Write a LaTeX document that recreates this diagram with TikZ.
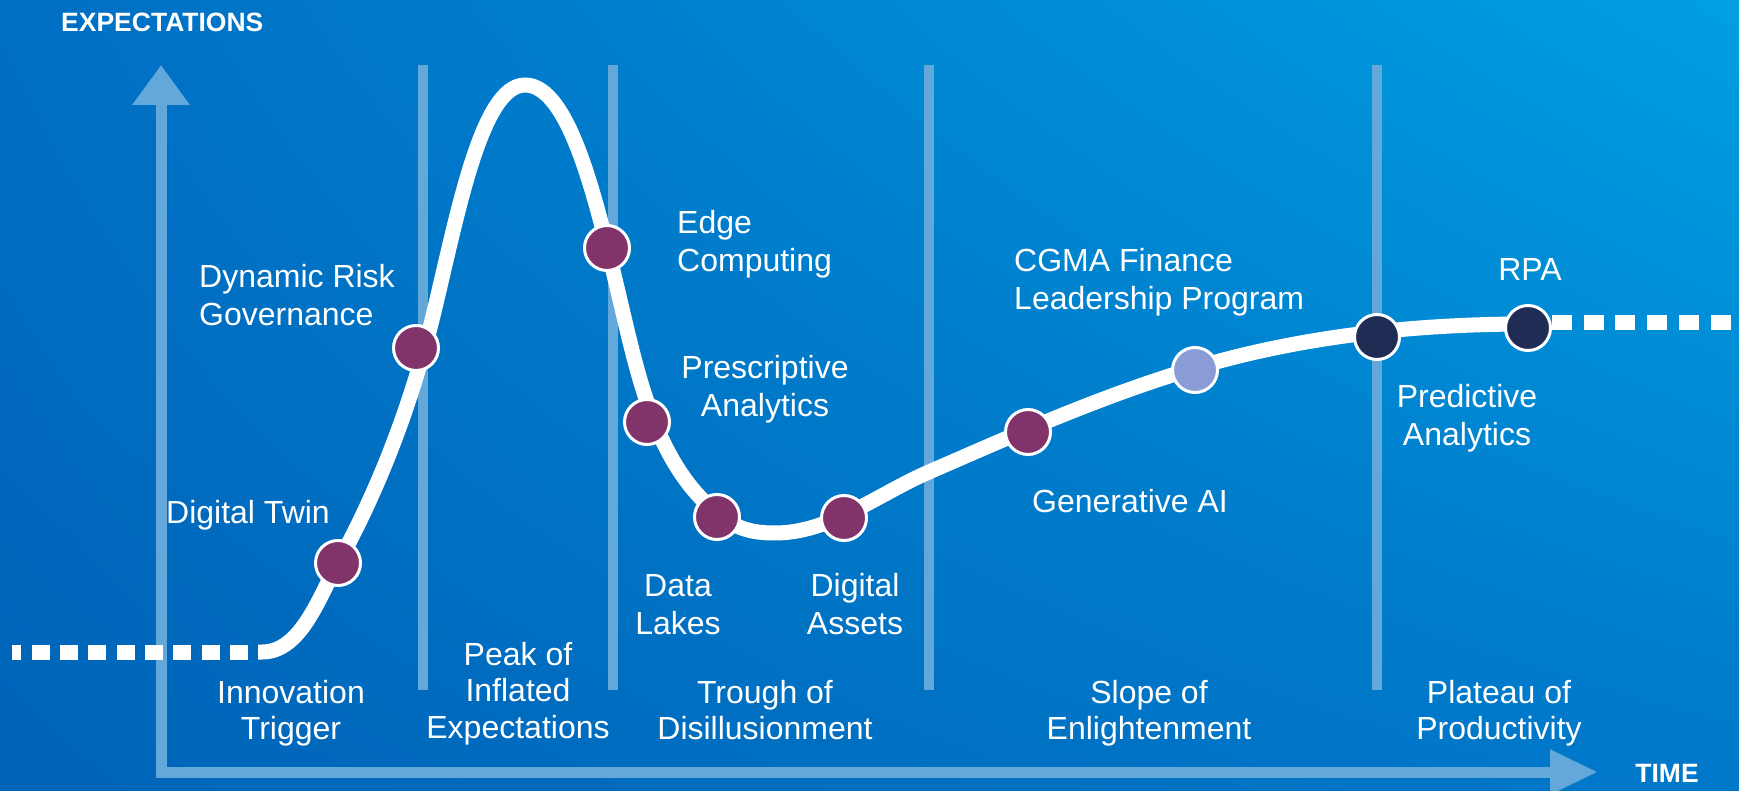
\documentclass[tikz,border=0pt]{standalone}
\usepackage{fontspec}
\setmainfont{Liberation Sans}
\usetikzlibrary{arrows.meta,shadings}
\definecolor{bgUL}{RGB}{0,110,195}
\definecolor{bgUR}{RGB}{0,160,226}
\definecolor{bgLL}{RGB}{0,100,184}
\definecolor{bgLR}{RGB}{0,120,202}
\definecolor{axisblue}{RGB}{98,168,218}
\definecolor{dotpurple}{RGB}{128,52,106}
\definecolor{dotnavy}{RGB}{31,45,85}
\definecolor{dotlight}{RGB}{138,156,214}
\newcommand\mystrut{\rule{0pt}{23pt}}
\begin{document}
\begin{tikzpicture}[x=1pt,y=-1pt,
  axisline/.style={draw=axisblue, line width=11pt, line join=miter},
  divider/.style={draw=axisblue, line width=10pt},
  hype/.style={draw=white, line width=15pt, line join=round},
  dashwhite/.style={draw=white, line width=15pt},
  hdot/.style={circle, draw=white, line width=3pt, minimum size=45pt, inner sep=0pt},
  lbl/.style={text=white, inner sep=0pt, font=\fontsize{32}{38.5}\selectfont},
  phase/.style={text=white, inner sep=0pt, align=center, font=\fontsize{32}{36.5}\selectfont},
  axlbl/.style={text=white, inner sep=0pt, font=\fontsize{26.5}{30}\selectfont\bfseries}]
\useasboundingbox (0,0) rectangle (1739,791);
\shade[upper left=bgUL, upper right=bgUR, lower left=bgLL, lower right=bgLR] (0,0) rectangle (1739,791);

% axes
\coordinate (xtip) at (1598,772);
\coordinate (corner) at (161,772);
\coordinate (ytip) at (161,65);
\draw[axisline, {Triangle[length=48pt,width=42pt]}-{Triangle[length=40pt,width=55pt]}] (xtip) -- (corner) -- (ytip);

% phase dividers
\foreach \xx in {423,613,929,1377} \draw[divider] (\xx,65) -- (\xx,690);

% dashed ends
\coordinate (dl1) at (248,652);
\coordinate (dl0) at (12,652);
\draw[dashwhite, dash pattern=on 18pt off 10.33pt] (dl1) -- (dl0);
\coordinate (dr0) at (1552,323);
\coordinate (dr1) at (1731,323);
\draw[dashwhite, dash pattern=on 20pt off 11.7pt] (dr0) -- (dr1);

% hype curve
\draw[hype] (258,652) -- (262,652)
 .. controls (301,652) and (319,597) .. (338,563)
 .. controls (380,487) and (411,404) .. (432,320)
 .. controls (456,223) and (480,85) .. (525,85)
 .. controls (570,85) and (597,203) .. (620,300)
 .. controls (638,376) and (656,464) .. (717,513)
 .. controls (736,529) and (752,533) .. (775,533)
 .. controls (830,533) and (878,494) .. (929,472)
 .. controls (1016,434) and (1104,395) .. (1195,368)
 .. controls (1302,336) and (1416,324) .. (1528,324);

% dots
\node[hdot, fill=dotpurple] (twin) at (338,563) {};
\node[hdot, fill=dotpurple] (risk) at (416,348) {};
\node[hdot, fill=dotpurple] (edge) at (607,248) {};
\node[hdot, fill=dotpurple] (presc) at (647,422) {};
\node[hdot, fill=dotpurple] (lakes) at (717,517) {};
\node[hdot, fill=dotpurple] (assets) at (844,518) {};
\node[hdot, fill=dotpurple] (genai) at (1028,432) {};
\node[hdot, fill=dotlight] (cgma) at (1195,370) {};
\node[hdot, fill=dotnavy] (pred) at (1377,337) {};
\node[hdot, fill=dotnavy] (rpa) at (1528,328) {};

% item labels
\node[lbl, anchor=base west] (ltwin) at (166,523) {Digital Twin};
\node[lbl, anchor=north west, align=left] (lrisk) at (199,264) {\mystrut Dynamic Risk\\Governance};
\node[lbl, anchor=north west, align=left] (ledge) at (677,210) {\mystrut Edge\\Computing};
\node[lbl, anchor=north, align=center] (lpresc) at (765,355) {\mystrut Prescriptive\\Analytics};
\node[lbl, anchor=north, align=center] (llakes) at (678,573) {\mystrut Data\\Lakes};
\node[lbl, anchor=north, align=center] (lassets) at (855,573) {\mystrut Digital\\Assets};
\node[lbl, anchor=base] (lgenai) at (1130,512) {Generative AI};
\node[lbl, anchor=north west, align=left] (lcgma) at (1014,248) {\mystrut CGMA Finance\\Leadership Program};
\node[lbl, anchor=base] (lrpa) at (1530,281) {RPA};
\node[lbl, anchor=north, align=center] (lpred) at (1467,384) {\mystrut Predictive\\Analytics};

% phase labels
\node[phase, anchor=north] (p1) at (291,680) {\mystrut Innovation\\Trigger};
\node[phase, anchor=north] (p2) at (518,642) {\mystrut Peak of\\Inflated\\Expectations};
\node[phase, anchor=north] (p3) at (765,680) {\mystrut Trough of\\Disillusionment};
\node[phase, anchor=north] (p4) at (1149,680) {\mystrut Slope of\\Enlightenment};
\node[phase, anchor=north] (p5) at (1499,680) {\mystrut Plateau of\\Productivity};

% axis labels
\node[axlbl, anchor=base west] (ylab) at (61,32) {EXPECTATIONS};
\node[axlbl, anchor=base] (xlab) at (1667,782) {TIME};
\end{tikzpicture}
\end{document}
